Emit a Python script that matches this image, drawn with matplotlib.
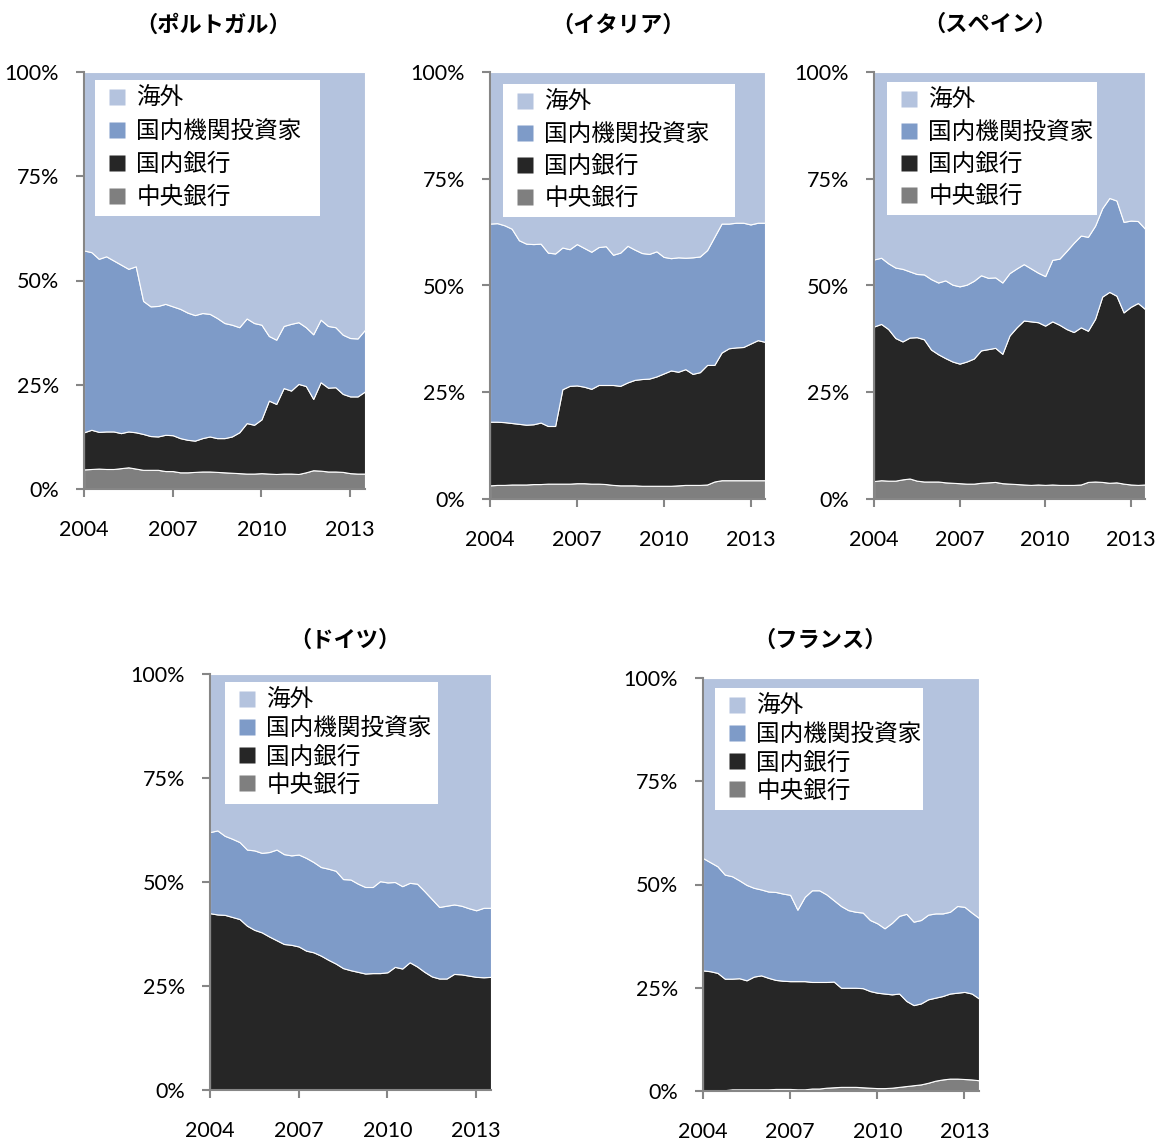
import numpy as np
import matplotlib
matplotlib.use("Agg")
import matplotlib.pyplot as plt
from matplotlib.lines import Line2D

plt.rcParams['font.family'] = ['Noto Sans CJK JP', 'DejaVu Sans']

# Quarterly observations, 2004Q1 .. 2013Q3
quarters = np.arange(2004, 2013.5 + 0.001, 0.25)

series_names = ["海外", "国内機関投資家", "国内銀行", "中央銀行"]
colors = {"海外": "#B4C3DE", "国内機関投資家": "#7E9BC8",
          "国内銀行": "#262626", "中央銀行": "#7F7F7F"}

year_ticks = [2004, 2007, 2010, 2013]
pct_ticks = [0, 25, 50, 75, 100]
pct_labels = ["0%", "25%", "50%", "75%", "100%"]

# Holdings shares (%) by sector
pt_central = [4.7, 4.8, 4.9, 4.8, 4.8, 5.0, 5.2, 4.9, 4.6, 4.6, 4.6, 4.3, 4.3, 4.0, 4.0, 4.1, 4.2, 4.2, 4.1, 4.0,
              3.9, 3.8, 3.7, 3.7, 3.8, 3.7, 3.6, 3.7, 3.7, 3.6, 4.0, 4.5, 4.4, 4.2, 4.2, 4.1, 3.8, 3.7, 3.7]
pt_banks = [8.9, 9.4, 8.8, 9.0, 9.0, 8.4, 8.6, 8.7, 8.6, 8.1, 8.0, 8.7, 8.6, 8.2, 7.8, 7.5, 8.0, 8.4, 8.1, 8.2,
            8.7, 9.8, 12.1, 11.7, 12.9, 17.5, 16.8, 20.5, 19.9, 21.6, 20.7, 17.1, 21.2, 20.1, 20.2, 18.7, 18.4, 18.5, 19.7]
pt_institutional = [43.6, 42.6, 41.5, 42.0, 41.0, 40.4, 39.0, 39.8, 31.9, 31.1, 31.3, 31.4, 30.9, 31.0, 30.5, 30.1,
                    30.0, 29.4, 28.8, 27.6, 26.8, 25.2, 25.1, 24.4, 22.7, 15.5, 15.4, 14.9, 16.0, 14.8, 14.1, 15.5,
                    15.0, 14.8, 14.4, 14.2, 14.0, 13.9, 14.8]
pt_foreign = [42.8, 43.2, 44.8, 44.2, 45.2, 46.2, 47.2, 46.6, 54.9, 56.2, 56.1, 55.6, 56.2, 56.8, 57.7, 58.3, 57.8,
              58.0, 59.0, 60.2, 60.6, 61.2, 59.1, 60.2, 60.6, 63.3, 64.2, 60.9, 60.4, 60.0, 61.2, 62.9, 59.4, 60.9,
              61.2, 63.0, 63.8, 63.9, 61.8]

it_central = [3.2, 3.3, 3.3, 3.4, 3.4, 3.4, 3.5, 3.5, 3.6, 3.6, 3.6, 3.6, 3.7, 3.7, 3.6, 3.6, 3.5, 3.3, 3.2, 3.2,
              3.2, 3.1, 3.1, 3.1, 3.1, 3.1, 3.2, 3.3, 3.3, 3.3, 3.4, 4.1, 4.4, 4.4, 4.4, 4.4, 4.4, 4.4, 4.4]
it_banks = [14.9, 14.8, 14.7, 14.4, 14.2, 14.0, 14.0, 14.4, 13.5, 13.5, 22.1, 22.9, 22.9, 22.6, 22.2, 23.1, 23.2,
            23.4, 23.3, 24.1, 24.7, 25.0, 25.1, 25.6, 26.3, 27.0, 26.6, 27.1, 26.0, 26.4, 28.0, 27.3, 29.9, 30.9,
            31.1, 31.2, 32.0, 32.8, 32.4]
it_institutional = [46.4, 46.5, 46.1, 45.5, 43.0, 42.4, 42.2, 41.9, 40.6, 40.4, 33.2, 32.0, 33.1, 32.5, 32.1, 32.3,
                    32.5, 30.5, 31.2, 32.0, 30.5, 29.5, 29.2, 29.3, 27.3, 26.3, 26.8, 26.1, 27.3, 27.1, 26.9, 30.0,
                    30.2, 29.2, 29.2, 29.1, 27.9, 27.5, 27.9]
it_foreign = [35.5, 35.4, 35.9, 36.7, 39.4, 40.2, 40.3, 40.2, 42.3, 42.5, 41.1, 41.5, 40.3, 41.2, 42.1, 41.0, 40.8,
              42.8, 42.3, 40.7, 41.6, 42.4, 42.6, 42.0, 43.3, 43.6, 43.4, 43.5, 43.4, 43.2, 41.7, 38.6, 35.5, 35.5,
              35.3, 35.3, 35.7, 35.3, 35.3]

es_central = [4.2, 4.4, 4.3, 4.3, 4.6, 4.8, 4.3, 4.1, 4.1, 4.1, 3.9, 3.8, 3.7, 3.6, 3.6, 3.8, 3.9, 4.0, 3.7, 3.6,
              3.5, 3.4, 3.3, 3.4, 3.3, 3.4, 3.3, 3.3, 3.3, 3.4, 4.0, 4.1, 4.0, 3.8, 3.9, 3.6, 3.4, 3.3, 3.4]
es_banks = [36.2, 36.6, 35.5, 33.4, 32.3, 33.0, 33.6, 33.3, 30.9, 29.8, 29.1, 28.4, 28.0, 28.6, 29.3, 31.0, 31.2,
            31.4, 30.3, 34.7, 36.7, 38.4, 38.3, 38.0, 37.3, 38.2, 37.5, 36.5, 35.8, 36.8, 35.4, 38.1, 43.4, 44.7,
            43.7, 40.1, 41.6, 42.6, 41.1]
es_institutional = [15.7, 15.5, 15.4, 16.5, 17.0, 15.5, 14.8, 15.2, 16.5, 16.8, 18.2, 18.0, 18.1, 18.0, 18.2, 17.6,
                    16.7, 16.5, 16.7, 14.6, 13.8, 13.2, 12.4, 11.6, 11.6, 14.4, 15.5, 18.3, 20.9, 21.5, 22.0, 21.8,
                    20.7, 22.0, 22.3, 21.2, 20.2, 19.2, 18.8]
es_foreign = [43.9, 43.5, 44.8, 45.8, 46.1, 46.7, 47.3, 47.4, 48.5, 49.3, 48.8, 49.8, 50.2, 49.8, 48.9, 47.6, 48.2,
              48.1, 49.3, 47.1, 46.0, 45.0, 46.0, 47.0, 47.8, 44.0, 43.7, 41.9, 40.0, 38.3, 38.6, 36.0, 31.9, 29.5,
              30.1, 35.1, 34.8, 34.9, 36.7]

de_central = [0.1] * 39
de_banks = [42.4, 42.1, 42.0, 41.5, 41.0, 39.4, 38.4, 37.8, 36.8, 35.9, 35.0, 34.8, 34.4, 33.4, 33.0, 32.2, 31.2,
            30.3, 29.2, 28.7, 28.3, 27.9, 28.0, 28.0, 28.2, 29.5, 29.1, 30.6, 29.6, 28.3, 27.2, 26.7, 26.7, 27.8,
            27.7, 27.4, 27.1, 27.0, 27.1]
de_institutional = [19.5, 20.2, 19.0, 18.8, 18.5, 18.3, 19.1, 19.1, 20.3, 21.8, 21.6, 21.5, 22.1, 22.3, 21.7, 21.3,
                    21.9, 22.3, 21.4, 21.8, 21.2, 20.8, 20.7, 22.1, 21.6, 20.4, 19.8, 19.1, 19.9, 19.4, 18.6, 17.2,
                    17.5, 16.7, 16.5, 16.2, 16.0, 16.7, 16.6]
de_foreign = [38.0, 37.6, 38.9, 39.6, 40.4, 42.2, 42.4, 43.0, 42.8, 42.2, 43.3, 43.6, 43.4, 44.2, 45.2, 46.4, 46.8,
              47.3, 49.3, 49.4, 50.4, 51.2, 51.2, 49.8, 50.1, 50.0, 51.0, 50.2, 50.4, 52.2, 54.1, 56.0, 55.7, 55.4,
              55.7, 56.3, 56.8, 56.2, 56.2]

fr_central = [0.2, 0.2, 0.2, 0.2, 0.4, 0.4, 0.4, 0.4, 0.4, 0.4, 0.5, 0.5, 0.5, 0.4, 0.4, 0.6, 0.6, 0.8, 0.9, 1.0,
              1.0, 1.0, 0.9, 0.8, 0.7, 0.7, 0.8, 1.0, 1.2, 1.4, 1.6, 2.0, 2.5, 2.8, 3.0, 3.0, 2.9, 2.8, 2.6]
fr_banks = [29.0, 28.8, 28.4, 27.0, 26.8, 26.9, 26.4, 27.3, 27.6, 27.0, 26.4, 26.2, 26.1, 26.2, 26.2, 25.8, 25.8,
            25.6, 25.6, 24.0, 24.0, 24.0, 24.0, 23.4, 23.1, 22.9, 22.6, 22.6, 20.6, 19.4, 19.6, 20.2, 20.1, 20.2,
            20.6, 20.8, 21.1, 20.8, 19.8]
fr_institutional = [27.2, 26.4, 25.8, 25.2, 24.8, 23.7, 23.1, 21.5, 20.8, 20.9, 21.3, 21.1, 20.9, 17.3, 20.4, 22.2,
                    22.2, 21.2, 19.7, 19.8, 18.8, 18.4, 18.3, 17.2, 16.8, 15.8, 17.3, 18.8, 21.1, 20.2, 20.2, 20.5,
                    20.4, 20.0, 19.8, 21.0, 20.6, 19.6, 19.5]
fr_foreign = [43.6, 44.6, 45.6, 47.6, 48.0, 49.0, 50.1, 50.8, 51.2, 51.7, 51.8, 52.2, 52.5, 56.1, 53.0, 51.4, 51.4,
              52.4, 53.8, 55.2, 56.2, 56.6, 56.8, 58.6, 59.4, 60.6, 59.3, 57.6, 57.1, 59.0, 58.6, 57.3, 57.0, 57.0,
              56.6, 55.2, 55.4, 56.8, 58.1]

countries = [
    ("（ポルトガル）", pt_central, pt_banks, pt_institutional, pt_foreign),
    ("（イタリア）", it_central, it_banks, it_institutional, it_foreign),
    ("（スペイン）", es_central, es_banks, es_institutional, es_foreign),
    ("（ドイツ）", de_central, de_banks, de_institutional, de_foreign),
    ("（フランス）", fr_central, fr_banks, fr_institutional, fr_foreign),
]

W, H = 1158, 1140
fig = plt.figure(figsize=(W / 100, H / 100), dpi=100)


def px_rect(left, top, right, bottom):
    return [left / W, 1 - bottom / H, (right - left) / W, (bottom - top) / H]


# panel layout: axes box, title centre, legend box (x, y, w), legend spacing
layout = [
    dict(ax=(84, 72, 365, 489), title=(213, 25), leg=(95, 80, 225), sp=0.42),
    dict(ax=(490, 72, 765, 499), title=(618, 25), leg=(503, 84, 232), sp=0.38),
    dict(ax=(874, 72, 1145, 499), title=(990, 24), leg=(887, 82, 210), sp=0.38),
    dict(ax=(210, 674, 491, 1090), title=(345, 640), leg=(225, 682, 213), sp=0.22),
    dict(ax=(703, 678, 979, 1091), title=(820, 640), leg=(715, 688, 208), sp=0.22),
]

axis_grey = "#868686"
tick_font = ["Lato", "DejaVu Sans"]

for (title, cb, bk, inst, fgn), lay in zip(countries, layout):
    ax = fig.add_axes(px_rect(*lay["ax"]))
    ax.stackplot(quarters, cb, bk, inst, fgn,
                 colors=[colors["中央銀行"], colors["国内銀行"],
                         colors["国内機関投資家"], colors["海外"]],
                 edgecolor="white", linewidth=0.8)
    ax.set_xlim(quarters[0], quarters[-1])
    ax.set_ylim(0, 100)
    ax.set_xticks(year_ticks)
    ax.set_xticklabels([str(y) for y in year_ticks], family=tick_font, fontsize=15.5)
    ax.set_yticks(pct_ticks)
    ax.set_yticklabels(pct_labels, family=tick_font, fontsize=15.5)
    for s in ("top", "right"):
        ax.spines[s].set_visible(False)
    for s in ("left", "bottom"):
        ax.spines[s].set_color(axis_grey)
        ax.spines[s].set_linewidth(1.5)
        ax.spines[s].set_zorder(5)
    ax.tick_params(axis="both", direction="out", length=6, width=1.5,
                   color=axis_grey, labelcolor="black")
    ax.tick_params(axis="x", pad=16)
    ax.tick_params(axis="y", pad=12)

    fig.text(lay["title"][0] / W, 1 - lay["title"][1] / H, title,
             ha="center", va="center", fontsize=16, fontweight="bold")

    handles = [Line2D([], [], linestyle="none", marker="s", markersize=12,
                      markerfacecolor=colors[n], markeredgecolor="none")
               for n in series_names]
    lx, ly, lw = lay["leg"]
    leg = fig.legend(handles, series_names, loc="upper left",
                     bbox_to_anchor=(lx / W, 1 - ly / H, lw / W, 0.0),
                     mode="expand", borderaxespad=0.0, fontsize=17,
                     frameon=True, fancybox=False, framealpha=1.0,
                     facecolor="white", edgecolor="none",
                     handlelength=1.3, handletextpad=0.15,
                     labelspacing=lay["sp"], borderpad=0.3)
    leg.set_zorder(10)

fig.savefig("out.png", dpi=100)
